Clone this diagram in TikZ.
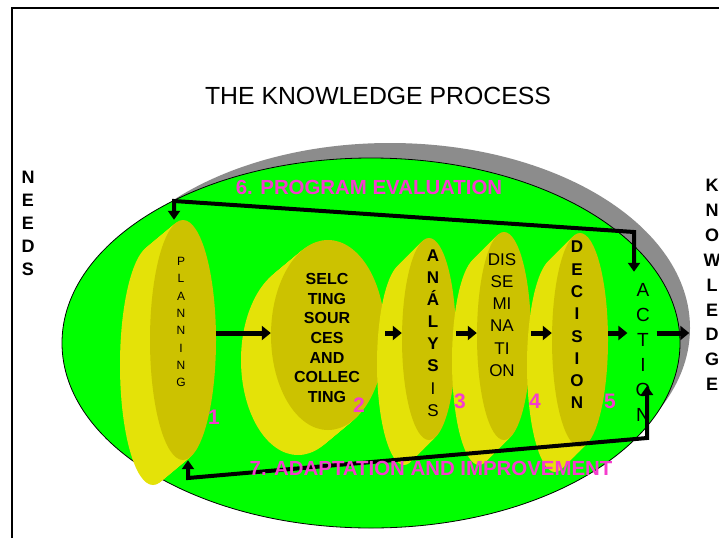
\documentclass[tikz,border=0pt]{standalone}
\usepackage{fontspec}
\setmainfont{Liberation Sans}
\usepackage{xcolor}
\usetikzlibrary{calc,
	positioning,
	shapes.geometric,
	arrows.meta}
\definecolor{ovalgreen}{RGB}{0,255,0}
\definecolor{ovalgray}{RGB}{140,140,140}
\definecolor{diskfront}{RGB}{204,194,0}
\definecolor{diskside}{RGB}{228,226,8}
\definecolor{stagepink}{RGB}{245,60,205}
\tikzstyle{disk}=[ellipse, fill=diskfront, inner sep=0]
\tikzstyle{flow}=[line width=5pt, -{Triangle[length=9pt,width=14pt]}]
\tikzstyle{loopback}=[line width=4pt, {Triangle[length=9pt,width=12pt]}-{Triangle[length=9pt,width=12pt]}]
\tikzstyle{vtext}=[align=center, inner sep=2pt]
\tikzstyle{stage}=[text=stagepink, inner sep=0, font=\bfseries\fontsize{20.4}{24}\selectfont]
\tikzstyle{num}=[text=stagepink, inner sep=0, font=\bfseries\fontsize{21}{24}\selectfont]

\begin{document}
\begin{tikzpicture}[x=1pt, y=-1pt]
\useasboundingbox (0,0) rectangle (719,538);
\draw[line width=1.5pt] (12,538) -- (12,8) -- (719,8);
\node[font=\fontsize{24.8}{28}\selectfont] (title) at (378,96) {THE KNOWLEDGE PROCESS};
% the oval
\fill[ovalgray] (390,328) ellipse [x radius=300, y radius=185];
\draw[fill=ovalgreen, line width=0.8pt] (371,343) ellipse [x radius=309, y radius=185];
% the five disks
\foreach \n/\x/\y/\rx/\ry/\dx/\dy in {plan/183/340/33/120/-30/25,
		sel/328/335/57/95/-30/25,
		ana/429/339/27/101/-25/25,
		dis/504/336/27/104/-25/25,
		dec/580/340/28/107/-25/25}{
	\foreach \k in {20,...,1}
		\fill[diskside] (\x+\k*\dx/20, \y+\k*\dy/20) ellipse [x radius=\rx, y radius=\ry];
	\node[disk, minimum width=2pt*\rx, minimum height=2pt*\ry] (\n) at (\x,\y) {};
}
% texts
\node[vtext, font=\fontsize{12}{17.3}\selectfont] (plantxt) at (181,322) {P\\L\\A\\N\\N\\I\\N\\G};
\node[vtext, font=\bfseries\fontsize{16}{19.7}\selectfont] (seltxt) at (327,338) {SELC\\TING\\SOUR\\CES\\AND\\COLLEC\\TING};
\node[vtext, font=\bfseries\fontsize{17}{22.1}\selectfont] (anatxt) at (433,333) {A\\N\\Á\\L\\Y\\S\\\mdseries I\\\mdseries S};
\node[vtext, font=\fontsize{17}{22.2}\selectfont] (distxt) at (502,315) {DIS\\SE\\MI\\NA\\TI\\ON};
\node[vtext, font=\bfseries\fontsize{17}{22.3}\selectfont] (dectxt) at (577,325) {D\\E\\C\\I\\S\\I\\O\\N};
\node[vtext, font=\fontsize{19}{25}\selectfont] (act) at (643,352) {A\\C\\T\\I\\O\\N};
\node[vtext, font=\bfseries\fontsize{18}{23}\selectfont] (needs) at (28,223) {N\\E\\E\\D\\S};
\node[vtext, font=\bfseries\fontsize{18}{24.9}\selectfont] (know) at (712,285) {K\\N\\O\\W\\L\\E\\D\\G\\E};
% flow arrows
\coordinate (row) at (0,333);
\draw[flow] (plan.east |- row) -- (sel.west |- row);
\draw[flow] (sel.east |- row) -- (ana.west |- row);
\draw[flow] (ana.east |- row) -- (dis.west |- row);
\draw[flow] (dis.east |- row) -- (dec.west |- row);
\draw[flow, shorten >=6pt] (dec.east |- row) -- (act.west |- row);
\draw[flow, shorten <=4pt, shorten >=12pt] (act.east |- row) -- (know.west |- row);
% feedback loops
\coordinate (tl) at (174,201);
\coordinate (tr) at (634,232);
\draw[loopback, shorten >=9pt] (tl |- plan.north) -- (tl) -- (tr) -- (tr |- act.north);
\coordinate (bl) at (188,478);
\coordinate (br) at (647,438);
\coordinate (actin) at (647,386);
\draw[loopback] (bl |- plan.south) -- (bl) -- (br) -- (actin);
% stage labels
\node[stage] (eval) at (369,187) {6. PROGRAM EVALUATION};
\node[stage] (adapt) at (431,468) {7. ADAPTATION AND IMPROVEMENT};
\node[num] (n1) at (214,417) {1};
\node[num] (n2) at (359,405) {2};
\node[num] (n3) at (460,401) {3};
\node[num] (n4) at (535,401) {4};
\node[num] (n5) at (610,401) {5};
\end{tikzpicture}
\end{document}
